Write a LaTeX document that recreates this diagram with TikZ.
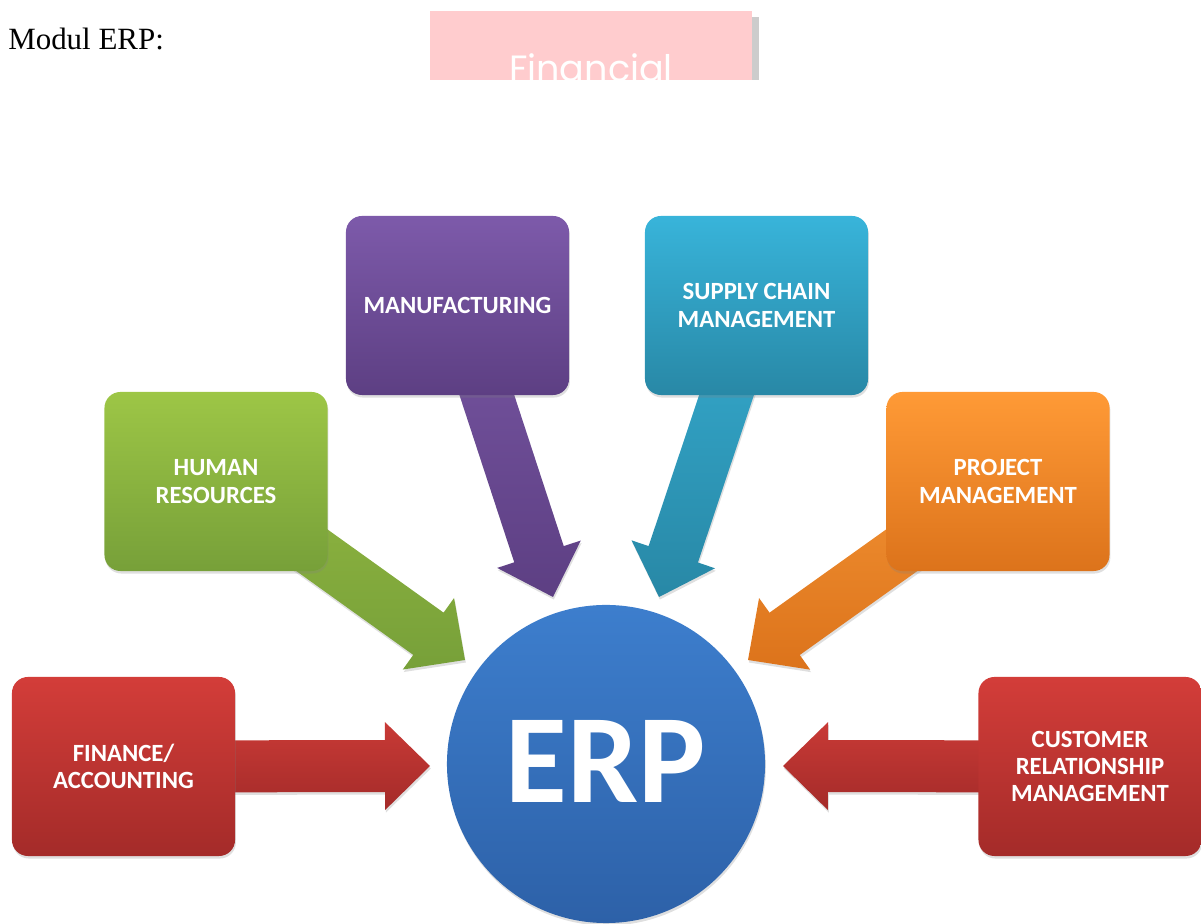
\documentclass[tikz,border=0pt]{standalone}
\usepackage{fontspec}
\setmainfont{Liberation Serif}
\newfontfamily\carlito{Carlito}
\newfontfamily\poppins{Poppins}
\usetikzlibrary{calc,shadows}
\pgfdeclarelayer{bg}
\pgfsetlayers{bg,main}
\definecolor{redT}{HTML}{D33D39}
\definecolor{redB}{HTML}{A42B29}
\definecolor{purT}{HTML}{7D5AAA}
\definecolor{purB}{HTML}{5D3F83}
\definecolor{cyT}{HTML}{38B4DA}
\definecolor{cyB}{HTML}{2888A6}
\definecolor{grT}{HTML}{9DC646}
\definecolor{grB}{HTML}{77A039}
\definecolor{orT}{HTML}{FF9A36}
\definecolor{orB}{HTML}{DC731B}
\definecolor{bluT}{HTML}{3D7ECD}
\definecolor{bluB}{HTML}{2D61A8}
\definecolor{pinkbg}{HTML}{FFCCCE}
\definecolor{pinkshadow}{HTML}{CCCCCC}
\tikzset{
  softshadow/.style={drop shadow={opacity=0.25, shadow xshift=0.6pt, shadow yshift=-1.8pt}},
  modbox/.style={rounded corners=0.4cm, minimum width=5.575cm, minimum height=4.475cm,
    inner sep=0pt, text=white, align=center,
    font=\carlito\bfseries\fontsize{17.6}{19.5}\selectfont, softshadow},
  redbox/.style={modbox, top color=redT, bottom color=redB},
  purbox/.style={modbox, top color=purT, bottom color=purB},
  cybox/.style={modbox, top color=cyT, bottom color=cyB},
  grbox/.style={modbox, top color=grT, bottom color=grB},
  orbox/.style={modbox, top color=orT, bottom color=orB},
  redarrow/.style={top color=redT!95!black, bottom color=redB, softshadow},
  purarrow/.style={top color=purT!95!black, bottom color=purB, softshadow},
  cyarrow/.style={top color=cyT!95!black, bottom color=cyB, softshadow},
  grarrow/.style={top color=grT!92!black, bottom color=grB, softshadow},
  orarrow/.style={top color=orT!95!black, bottom color=orB, softshadow},
}
\newcommand\fatarrow[3]{%
  \path ($(#2)!1.125cm!(#1)$) coordinate (neck);
  \path[#3] ($(#1)!0.65cm!90:(#2)$) -- ($(neck)!0.65cm!90:(#2)$)
    -- ($(neck)!1.1cm!90:(#2)$) -- (#2) -- ($(neck)!1.1cm!-90:(#2)$)
    -- ($(neck)!0.65cm!-90:(#2)$) -- ($(#1)!0.65cm!-90:(#2)$) -- cycle;
}
\begin{document}
\begin{tikzpicture}[x=0.025cm,y=0.025cm]
\useasboundingbox (0,0) rectangle (1201,924);

% header
\node[anchor=base west, inner sep=0pt, font=\fontsize{22}{26}\selectfont] (title) at (8,874) {Modul ERP:};
\fill[pinkshadow] (752,844) rectangle (759,907);
\node[fill=pinkbg, minimum width=8.05cm, minimum height=1.725cm, inner sep=0pt] (pink) at (591,878.5) {};
\begin{scope}
  \clip (430,844) rectangle (752,913);
  \node[anchor=base, inner sep=0pt, text=white, font=\poppins\fontsize{26}{30}\selectfont] (fintext) at (591,842) {Financial};
\end{scope}

% module boxes
\node[purbox] (man) at (457.5,618.5) {MANUFACTURING};
\node[cybox]  (sup) at (756.5,618.5) {SUPPLY CHAIN\\MANAGEMENT};
\node[grbox]  (hr)  at (216,442.5) {HUMAN\\RESOURCES};
\node[orbox]  (pm)  at (998,442.5) {PROJECT\\MANAGEMENT};
\node[redbox] (fin) at (123.5,157.5) {FINANCE/\\ACCOUNTING};
\node[redbox] (crm) at (1090,157.5) {CUSTOMER\\RELATIONSHIP\\MANAGEMENT};

% centre
\node[circle, minimum size=7.95cm, inner sep=0pt, top color=bluT, bottom color=bluB,
  text=white, font=\carlito\bfseries\fontsize{90}{100}\selectfont, softshadow] (erp) at (606,160) {\raisebox{3pt}{ERP}};

% arrow tips
\coordinate (tman) at (553,327);
\coordinate (tsup) at (659,327);
\coordinate (thr)  at (465,264);
\coordinate (tpm)  at (748,264);
\coordinate (tfin) at (430,158);
\coordinate (tcrm) at (783,158);

\begin{pgfonlayer}{bg}
  \fatarrow{man.center}{tman}{purarrow}
  \fatarrow{sup.center}{tsup}{cyarrow}
  \fatarrow{hr.center}{thr}{grarrow}
  \fatarrow{pm.center}{tpm}{orarrow}
  \fatarrow{fin.center}{tfin}{redarrow}
  \fatarrow{crm.center}{tcrm}{redarrow}
\end{pgfonlayer}
\end{tikzpicture}
\end{document}
